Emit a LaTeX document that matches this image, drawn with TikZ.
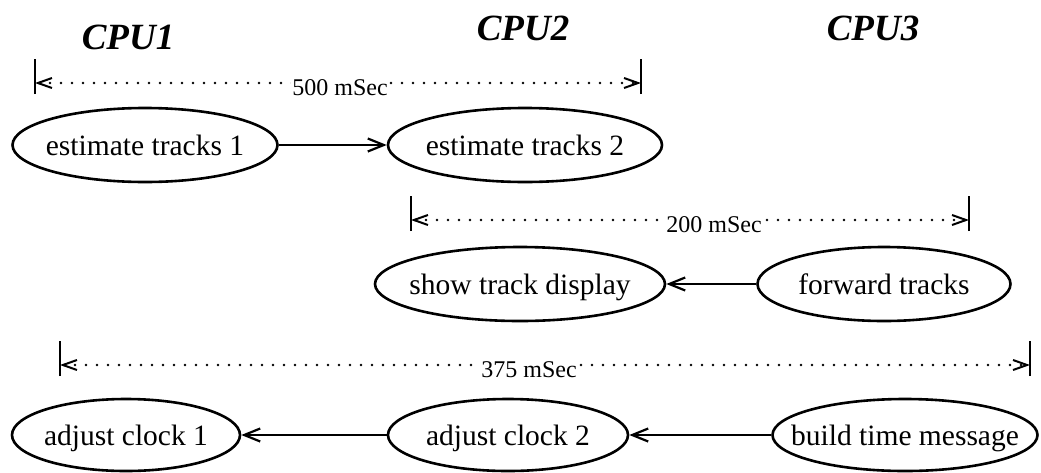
\documentclass[tikz,border=0pt]{standalone}
\usepackage{fontspec}
\setmainfont{Liberation Serif}
\usetikzlibrary{arrows.meta,shapes.geometric}
\tikzset{
  task/.style={draw, ellipse, line width=2.6pt, inner xsep=-60pt, inner ysep=-20pt,
     text height=25pt, text depth=4pt, minimum height=74pt, font=\fontsize{29.5}{31}\selectfont},
  flow/.style={line width=2.6pt, -{Straight Barb[length=16pt,width=13pt,line width=2.2pt]}},
  span/.style={line width=2.6pt, line cap=round, dash pattern=on 0pt off 11pt,
     {Straight Barb[length=14pt,width=10pt,line width=2pt,line cap=butt]}-{Straight Barb[length=14pt,width=10pt,line width=2pt,line cap=butt]}},
  tick/.style={line width=2.6pt},
  spanlabel/.style={fill=white, inner sep=1pt, font=\fontsize{24}{26}\selectfont},
  cpu/.style={font=\fontsize{37}{39}\selectfont\bfseries\itshape}
}
\begin{document}
\begin{tikzpicture}[x=1pt,y=-1pt]
\useasboundingbox (0,0) rectangle (1041,472);
% CPU headers
\node[cpu] (c1) at (128,37) {CPU1};
\node[cpu] (c2) at (523,28) {CPU2};
\node[cpu] (c3) at (873,28) {CPU3};
% tasks
\node[task, minimum width=265pt] (e1) at (145,145) {estimate tracks 1};
\node[task, minimum width=274pt] (e2) at (525,145) {estimate tracks 2};
\node[task, minimum width=290pt] (sd) at (520,284) {show track display};
\node[task, minimum width=253pt] (ft) at (884,284) {forward tracks};
\node[task, minimum width=228pt, minimum height=72pt] (a1) at (126,435) {adjust clock 1};
\node[task, minimum width=240pt, minimum height=72pt] (a2) at (508,435) {adjust clock 2};
\node[task, minimum width=265pt, minimum height=72pt] (bt) at (905,435) {build time message};
% connectors
\draw[flow] (e1.east) -- (e2.west);
\draw[flow] (ft.west) -- (sd.east);
\draw[flow] (a2.west) -- (a1.east);
\draw[flow] (bt.west) -- (a2.east);
% timing spans
\coordinate (s1l) at (35,83);  \coordinate (s1r) at (641,83);
\coordinate (s2l) at (411,220); \coordinate (s2r) at (969,220);
\coordinate (s3l) at (60,365);  \coordinate (s3r) at (1030,365);
\foreach \c in {s1l,s1r,s2l,s2r,s3l,s3r}{
  \draw[tick] ([yshift=-11pt]\c) -- ([yshift=24pt]\c);
}
\draw[span] (s1l) -- (s1r);
\draw[span] (s2l) -- (s2r);
\draw[span] (s3l) -- (s3r);
\node[spanlabel] (l1) at (340,88) {500 mSec};
\node[spanlabel] (l2) at (714,225) {200 mSec};
\node[spanlabel] (l3) at (529,370) {375 mSec};
\end{tikzpicture}
\end{document}
